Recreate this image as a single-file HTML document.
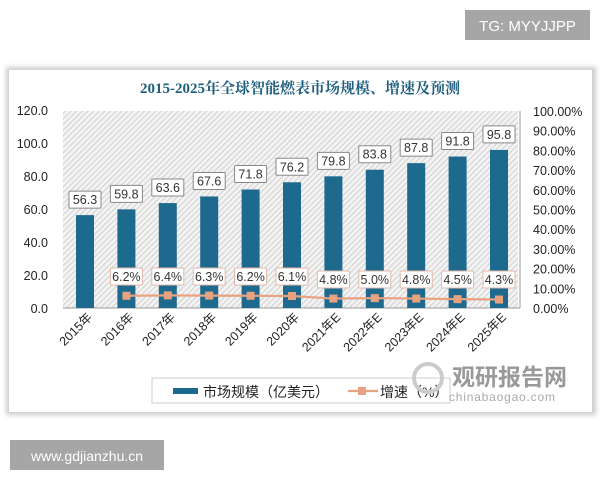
<!DOCTYPE html>
<html><head><meta charset="utf-8"><style>
body{margin:0;width:600px;height:480px;background:#fff;overflow:hidden;font-family:"Liberation Sans","Noto Sans CJK SC",sans-serif}
</style></head><body>
<svg id="s" width="600" height="480" xmlns="http://www.w3.org/2000/svg" style="position:absolute;left:0;top:0">
<defs>
<pattern id="h" width="4" height="4" patternUnits="userSpaceOnUse" patternTransform="rotate(45)">
<rect width="4" height="4" fill="#f4f4f4"/><rect width="1.3" height="4" fill="#d6d6d6"/></pattern>
<filter id="sh" x="-5%" y="-5%" width="110%" height="110%"><feGaussianBlur stdDeviation="2.5"/></filter>
</defs>
<rect x="465" y="10" width="125" height="30" fill="#a6a6a6"/>
<text x="527.5" y="31" font-size="15" fill="#fff" text-anchor="middle">TG: MYYJJPP</text>
<rect x="6" y="67" width="590" height="348" fill="#ccc" filter="url(#sh)"/>
<rect x="9" y="70" width="583" height="342" fill="#fff"/>
<text x="300" y="93" font-size="15" font-weight="bold" fill="#1f5f7e" text-anchor="middle" font-family="Liberation Serif,Noto Serif CJK SC,serif">2015-2025年全球智能燃表市场规模、增速及预测</text>
<rect x="63" y="111" width="455" height="197" fill="url(#h)"/>
<g id="g"></g>
<rect x="10" y="440" width="154" height="30" fill="#a6a6a6"/>
<text x="87" y="461" font-size="14" fill="#fff" text-anchor="middle">www.gdjianzhu.cn</text>
</svg>
<script>
var g=document.getElementById('g'),o='';
var v=[56.3,59.8,63.6,67.6,71.8,76.2,79.8,83.8,87.8,91.8,95.8];
var r=[null,6.2,6.4,6.3,6.2,6.1,4.8,5.0,4.8,4.5,4.3];
var lab=['2015年','2016年','2017年','2018年','2019年','2020年','2021年E','2022年E','2023年E','2024年E','2025年E'];
for(var i=0;i<=6;i++){var y=308-i*33;o+='<text x="48" y="'+(y+5)+'" font-size="12.5" fill="#222" text-anchor="end">'+(i*20).toFixed(1)+'</text>';}
for(var i=0;i<=10;i++){var y=308-i*19.7;o+='<text x="533" y="'+(y+5)+'" font-size="12.5" fill="#222">'+(i*10).toFixed(2)+'%</text>';}
o+='<line x1="63" y1="308" x2="520" y2="308" stroke="#999"/><line x1="520" y1="111" x2="520" y2="308" stroke="#999"/>';
var pts=[];
for(var i=0;i<11;i++){var cx=85+i*41.4,t=308-v[i]*1.65;
o+='<rect x="'+(cx-9)+'" y="'+t+'" width="18" height="'+(308-t)+'" fill="#1d6a8e"/>';
o+='<rect x="'+(cx-16)+'" y="'+(t-24)+'" width="32" height="17" fill="#fff" stroke="#888" rx="1"/>';
o+='<text x="'+cx+'" y="'+(t-11)+'" font-size="12.5" fill="#333" text-anchor="middle">'+v[i]+'</text>';
o+='<text transform="translate('+(cx+8)+',318) rotate(-45)" font-size="12.5" fill="#222" text-anchor="end">'+lab[i]+'</text>';
if(r[i]!=null){var py=308-r[i]*1.97;pts.push(cx+','+py);
var ly=r[i]>5.5?278:281;
o+='<rect x="'+(cx-16)+'" y="'+(ly-10)+'" width="32" height="17" fill="#fff" stroke="#e0b8a8" rx="1"/>';
o+='<text x="'+cx+'" y="'+(ly+3)+'" font-size="12.5" fill="#333" text-anchor="middle">'+r[i].toFixed(1)+'%</text>';}}
o+='<polyline points="'+pts.join(' ')+'" fill="none" stroke="#e8a27f" stroke-width="2.2"/>';
pts.forEach(function(p){var a=p.split(',');o+='<rect x="'+(a[0]-4)+'" y="'+(a[1]-4)+'" width="8" height="8" fill="#e8a27f"/>';});
o+='<rect x="152" y="378" width="298" height="25" fill="#fff" stroke="#ccc"/>';
o+='<rect x="173" y="388" width="25" height="6" fill="#1d6a8e"/><text x="203" y="397" font-size="14" fill="#222">市场规模（亿美元）</text>';
o+='<line x1="348" y1="391" x2="378" y2="391" stroke="#e8a27f" stroke-width="2.2"/><rect x="358" y="387" width="8" height="8" fill="#e8a27f"/><text x="380" y="397" font-size="14" fill="#222">增速（%）</text>';
o+='<circle cx="428" cy="378" r="14" fill="none" stroke="#ccc" stroke-width="4"/>';
o+='<text x="452" y="385" font-size="23" font-weight="bold" fill="#999">观研报告网</text><text x="449" y="401" font-size="12" fill="#aaa" letter-spacing="0.8">chinabaogao.com</text>';
g.innerHTML=o;
</script>
</body></html>
